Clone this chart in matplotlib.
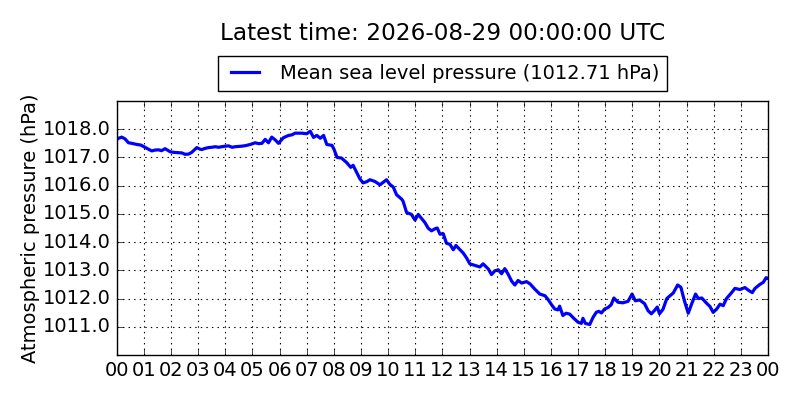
import matplotlib
matplotlib.use("Agg")
import matplotlib.pyplot as plt

# hours since 2026-08-28 00:00 UTC
hours = [0.0, 0.04, 0.18, 0.3, 0.43, 0.55, 0.74, 0.88, 1.0, 1.15, 1.29, 1.4, 1.54, 1.65, 1.78, 1.97,
         2.1, 2.27, 2.4, 2.52, 2.65, 2.76, 2.95, 3.05, 3.13, 3.25, 3.38, 3.5, 3.63, 3.75, 3.87, 4.0,
         4.12, 4.25, 4.36, 4.5, 4.61, 4.75, 4.92, 5.1, 5.22, 5.35, 5.47, 5.59, 5.71, 5.84, 5.96, 6.05,
         6.14, 6.33, 6.45, 6.57, 6.7, 6.82, 7.0, 7.13, 7.25, 7.37, 7.5, 7.62, 7.74, 7.85, 7.93, 8.0,
         8.12, 8.28, 8.47, 8.62, 8.71, 8.84, 8.96, 9.08, 9.21, 9.33, 9.51, 9.7, 9.82, 9.94, 10.06, 10.19,
         10.31, 10.5, 10.55, 10.68, 10.86, 10.99, 11.11, 11.23, 11.35, 11.48, 11.6, 11.72, 11.81, 11.91,
         12.03, 12.15, 12.28, 12.4, 12.5, 12.58, 12.77, 12.89, 13.01, 13.14, 13.26, 13.38, 13.5, 13.69,
         13.81, 13.93, 14.06, 14.18, 14.3, 14.43, 14.55, 14.67, 14.79, 14.92, 15.1, 15.23, 15.41, 15.59,
         15.78, 15.9, 16.01, 16.14, 16.26, 16.32, 16.44, 16.56, 16.69, 16.81, 17.0, 17.12, 17.18, 17.27,
         17.43, 17.55, 17.67, 17.76, 17.86, 17.98, 18.1, 18.22, 18.32, 18.47, 18.65, 18.84, 18.99, 19.11,
         19.27, 19.45, 19.58, 19.7, 19.82, 19.92, 20.0, 20.13, 20.27, 20.39, 20.51, 20.67, 20.79, 20.91,
         21.06, 21.19, 21.33, 21.43, 21.56, 21.74, 21.86, 21.98, 22.11, 22.23, 22.35, 22.47, 22.66, 22.78,
         22.97, 23.15, 23.27, 23.42, 23.52, 23.7, 23.83, 23.93, 24.0]
pressure = [1017.62, 1017.67, 1017.72, 1017.66, 1017.52, 1017.5, 1017.46, 1017.44, 1017.38, 1017.3,
            1017.23, 1017.26, 1017.27, 1017.24, 1017.31, 1017.2, 1017.18, 1017.17, 1017.16, 1017.11,
            1017.12, 1017.18, 1017.35, 1017.3, 1017.28, 1017.32, 1017.35, 1017.36, 1017.38, 1017.36,
            1017.38, 1017.4, 1017.41, 1017.36, 1017.38, 1017.39, 1017.4, 1017.42, 1017.46, 1017.52,
            1017.49, 1017.5, 1017.64, 1017.52, 1017.72, 1017.62, 1017.5, 1017.6, 1017.7, 1017.78,
            1017.8, 1017.86, 1017.86, 1017.86, 1017.84, 1017.93, 1017.71, 1017.78, 1017.68, 1017.78,
            1017.46, 1017.44, 1017.43, 1017.3, 1017.0, 1016.98, 1016.82, 1016.65, 1016.72, 1016.47,
            1016.24, 1016.1, 1016.14, 1016.21, 1016.15, 1016.03, 1016.12, 1016.21, 1016.05, 1015.95,
            1015.68, 1015.52, 1015.45, 1015.05, 1014.98, 1014.78, 1014.98, 1014.84, 1014.7, 1014.49,
            1014.4, 1014.47, 1014.5, 1014.28, 1014.3, 1013.96, 1013.92, 1013.73, 1013.88, 1013.8,
            1013.61, 1013.44, 1013.23, 1013.19, 1013.15, 1013.12, 1013.23, 1013.05, 1012.85, 1012.98,
            1013.02, 1012.88, 1013.06, 1012.85, 1012.62, 1012.48, 1012.64, 1012.55, 1012.6, 1012.52,
            1012.33, 1012.16, 1012.1, 1011.96, 1011.8, 1011.63, 1011.6, 1011.73, 1011.4, 1011.48,
            1011.45, 1011.33, 1011.16, 1011.12, 1011.3, 1011.12, 1011.08, 1011.33, 1011.51, 1011.55,
            1011.49, 1011.63, 1011.68, 1011.78, 1012.02, 1011.87, 1011.85, 1011.9, 1012.16, 1011.92,
            1011.95, 1011.82, 1011.57, 1011.46, 1011.58, 1011.7, 1011.46, 1011.62, 1012.0, 1012.1,
            1012.2, 1012.48, 1012.4, 1011.95, 1011.48, 1011.82, 1012.16, 1012.0, 1012.02, 1011.83,
            1011.72, 1011.51, 1011.63, 1011.8, 1011.75, 1012.0, 1012.21, 1012.36, 1012.32, 1012.39,
            1012.3, 1012.21, 1012.36, 1012.5, 1012.58, 1012.74, 1012.71]

xtick_pos = list(range(25))
xtick_labels = ["%02d" % (h % 24) for h in xtick_pos]
ytick_pos = [1011, 1012, 1013, 1014, 1015, 1016, 1017, 1018]
title = "Latest time: 2026-08-29 00:00:00 UTC"
label = "Mean sea level pressure (%.2f hPa)" % pressure[-1]

plt.style.use("classic")
fig = plt.figure(figsize=(8, 4), dpi=100, facecolor="white")
ax = fig.add_axes([0.146, 0.1125, 0.814, 0.635])

ax.plot(hours, pressure, color="b", linewidth=2.3, label=label)

ax.set_xlim(0, 24)
ax.set_ylim(1010, 1019)
ax.set_xticks(xtick_pos)
ax.set_xticklabels(xtick_labels, fontsize=14)
ax.set_yticks(ytick_pos)
ax.set_yticklabels(["%.1f" % v for v in ytick_pos], fontsize=14)
ax.grid(True, color="k", linestyle=":", linewidth=0.8)
ax.set_ylabel("Atmospheric pressure (hPa)", fontsize=14, labelpad=2)

ax.legend(loc="lower center", bbox_to_anchor=(0.5, 1.04), fontsize=14,
          borderaxespad=0, handlelength=2)
fig.text(0.5535, 0.8875, title, ha="center", va="bottom", fontsize=16.7)

fig.savefig("out.png", dpi=100, facecolor="white")
